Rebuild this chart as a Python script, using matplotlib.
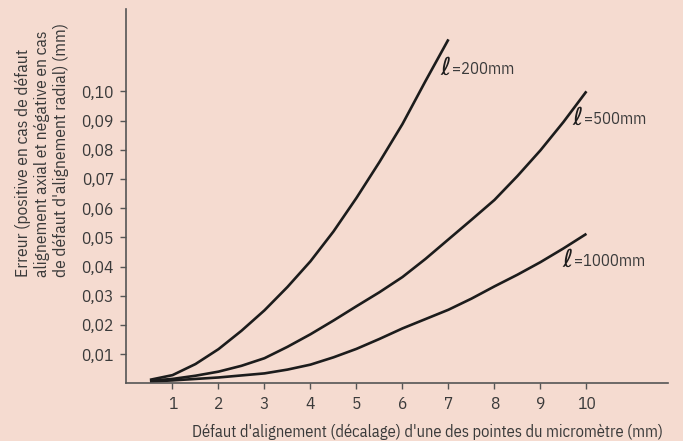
import matplotlib
matplotlib.use("Agg")
import matplotlib.pyplot as plt
from matplotlib import font_manager

# Error curves for three measuring lengths, x = misalignment of one point (mm)
x_200 = [0.51, 1, 1.5, 2, 2.5, 3, 3.5, 4, 4.5, 5, 5.5, 6, 6.5, 7.0]
y_200 = [0.0012, 0.0028, 0.0066, 0.0117, 0.018, 0.025, 0.033, 0.0418, 0.052,
         0.0635, 0.0758, 0.0888, 0.1035, 0.1178]

x_500 = [0.51, 1, 1.5, 2, 2.5, 3, 3.5, 4, 4.5, 5, 5.5, 6, 6.5, 7, 7.5, 8, 8.5, 9, 9.5, 10]
y_500 = [0.0009, 0.0015, 0.0026, 0.004, 0.006, 0.0086, 0.0125, 0.0168, 0.0215, 0.0264,
         0.0312, 0.0364, 0.0426, 0.0493, 0.056, 0.0628, 0.071, 0.0798, 0.0895, 0.1]

x_1000 = [0.51, 1, 2, 3, 3.5, 4, 4.5, 5, 5.5, 6, 6.5, 7, 7.5, 8, 8.5, 9, 9.5, 10]
y_1000 = [0.0006, 0.001, 0.002, 0.0034, 0.0047, 0.0064, 0.0089, 0.0118, 0.0152, 0.0188,
          0.022, 0.0252, 0.029, 0.0332, 0.0372, 0.0415, 0.0462, 0.0512]

x_ticks = [1, 2, 3, 4, 5, 6, 7, 8, 9, 10]
y_ticks = [0.01, 0.02, 0.03, 0.04, 0.05, 0.06, 0.07, 0.08, 0.09, 0.10]
y_tick_labels = ["0,01", "0,02", "0,03", "0,04", "0,05", "0,06", "0,07", "0,08", "0,09", "0,10"]

curve_labels = ["=200mm", "=500mm", "=1000mm"]
label_pos = [(6.83, 0.108), (9.70, 0.0909), (9.47, 0.0422)]

available = {f.name for f in font_manager.fontManager.ttflist}
base_font = "DejaVu Sans"
for cand in ["IBM Plex Sans Condensed", "Liberation Sans Narrow", "Open Sans Condensed", "Roboto"]:
    if cand in available:
        base_font = cand
        break
plt.rcParams["font.family"] = [base_font, "DejaVu Sans"]

BG = "#f5dbd0"
TXT = "#3a3a3a"
AX = "#555555"
LINE = "#1c1c1c"

fig = plt.figure(figsize=(6.83, 4.41), dpi=100, facecolor=BG)
ax = fig.add_axes([0.1852, 0.1308, 0.7933, 0.8488], facecolor=BG)

for xs, ys in [(x_200, y_200), (x_500, y_500), (x_1000, y_1000)]:
    ax.plot(xs, ys, color=LINE, lw=1.9, solid_capstyle="butt", solid_joinstyle="round")

ax.set_xlim(0, 11.78)
ax.set_ylim(0, 0.1282)
ax.set_xticks(x_ticks)
ax.set_xticklabels([str(v) for v in x_ticks])
ax.set_yticks(y_ticks)
ax.set_yticklabels(y_tick_labels)
for s in ["top", "right"]:
    ax.spines[s].set_visible(False)
for s in ["left", "bottom"]:
    ax.spines[s].set_color(AX)
    ax.spines[s].set_linewidth(1.2)
ax.tick_params(direction="out", length=4, width=1, color=AX, labelcolor=TXT,
               labelsize=12.5, pad=5)

for (lx, ly), txt in zip(label_pos, curve_labels):
    ax.text(lx, ly, "\u2113", fontsize=18, color=LINE, ha="left", va="center",
            family=["DejaVu Sans"])
    ax.annotate(txt, (lx, ly), xytext=(8.5, -0.5), textcoords="offset points",
                fontsize=12, color=TXT, ha="left", va="center")

fig.text(428 / 683, 1 - 432 / 441,
         "Défaut d'alignement (décalage) d'une des pointes du micromètre (mm)",
         ha="center", va="center", fontsize=11.9, color=TXT)
fig.text(42 / 683, 1 - 277 / 441,
         "Erreur (positive en cas de défaut\nalignement axial et négative en cas\nde défaut d'alignement radial) (mm)",
         rotation=90, ha="center", va="bottom", multialignment="left",
         fontsize=12.5, color=TXT, linespacing=1.2)

fig.savefig("out.png", dpi=100, facecolor=BG)
